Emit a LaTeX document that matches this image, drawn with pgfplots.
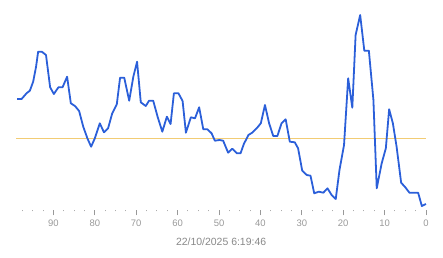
\documentclass[border=0pt]{standalone}
\usepackage{pgfplots}
\pgfplotsset{compat=1.18}
\usepackage{fontspec}
\setmainfont{Liberation Sans}
\definecolor{lineblue}{HTML}{2B5FD9}
\definecolor{refgold}{HTML}{F2CC74}
\definecolor{lblgray}{HTML}{999999}
\definecolor{ttlgray}{HTML}{888888}
\begin{document}
\begin{tikzpicture}
\useasboundingbox (0,0) rectangle (443bp,258bp);
\begin{axis}[
  at={(16.2bp,48bp)}, anchor=south west,
  scale only axis, width=409.8bp, height=210bp,
  xmin=0, xmax=99, x dir=reverse,
  ymin=0, ymax=210,
  clip=false,
  axis x line*=bottom, axis y line=none,
  x axis line style={draw=none},
  xtick={0,10,...,90},
  minor xtick={2.5,5,7.5,12.5,15,17.5,22.5,25,27.5,32.5,35,37.5,42.5,45,47.5,52.5,55,57.5,62.5,65,67.5,72.5,75,77.5,82.5,85,87.5,92.5,95,97.5},
  tick align=outside,
  major tick length=5.5bp, minor tick length=1.5bp,
  every tick/.style={draw=lblgray, line width=0.8pt},
  minor tick style={draw=lblgray!80, line width=1pt},
  ytick=\empty,
  ticklabel style={font=\fontsize{9.5}{10}\selectfont, text=lblgray},
  /pgf/number format/assume math mode=true,
  xticklabel style={yshift=-0.5bp},
  xlabel={22/10/2025 6:19:46},
  xlabel style={font=\fontsize{10.5}{12}\selectfont, text=ttlgray, yshift=-4.5bp},
]
\addplot[color=refgold, line width=0.9pt] coordinates {(99,72) (0,72)};
\addplot[color=lineblue, line width=1.8pt, line join=round] coordinates {
(98.8,111) (97.7,111) (96.5,116.7) (95.7,119.3) (94.9,128.3) (94.2,143.3) (93.7,158.3) (92.8,158.3) (91.8,155) (90.8,122.7)
(89.9,116) (88.8,122.7) (87.8,122.7) (86.7,133.3) (85.8,106.7) (84.8,104) (83.8,99) (82.8,83.3) (81.8,71.7) (80.9,63.3)
(80.0,71.7) (78.8,86.7) (77.8,77.7) (76.8,81.7) (75.8,96.7) (74.7,105.7) (73.9,132.3) (72.9,132.3) (71.7,109.3) (70.7,133.3)
(69.8,148.3) (68.9,107.7) (67.7,104) (66.9,109.3) (65.9,109.3) (64.8,92.7) (63.7,78.3) (62.6,93.3) (61.7,86) (60.9,116.7)
(59.8,116.7) (58.8,109) (58.0,77.3) (56.8,92.7) (55.8,91.7) (54.8,102.7) (53.8,80.7) (52.8,80.7) (51.8,76.7) (51.0,69.3)
(49.9,70) (49.0,69.3) (47.8,57.3) (46.8,61.3) (45.7,56.7) (44.8,56.7) (44.0,66) (42.9,75) (42.0,77.3) (40.9,81.7)
(39.9,86.7) (38.9,105) (37.9,86.7) (36.9,74) (35.9,74) (34.9,86.7) (33.9,90.7) (32.9,68.3) (31.7,67.7) (30.9,61.7)
(29.9,39.3) (28.8,35) (27.9,34.3) (27.0,16.7) (25.9,18.3) (24.8,17.3) (23.8,21.7) (22.8,15) (21.8,11) (20.9,40)
(19.8,65) (18.8,131.7) (17.8,102.3) (17.0,175) (15.9,195) (14.9,159.3) (13.8,159.3) (12.7,110) (11.9,21.7) (10.7,46.7)
(9.7,61.7) (8.9,100.7) (8.0,86.7) (7.1,63.3) (6.0,27.3) (5.0,22.7) (4.0,17.3) (2.9,17.3) (1.9,17.3) (1.0,4) (0,6)
};
\end{axis}
\end{tikzpicture}
\end{document}
